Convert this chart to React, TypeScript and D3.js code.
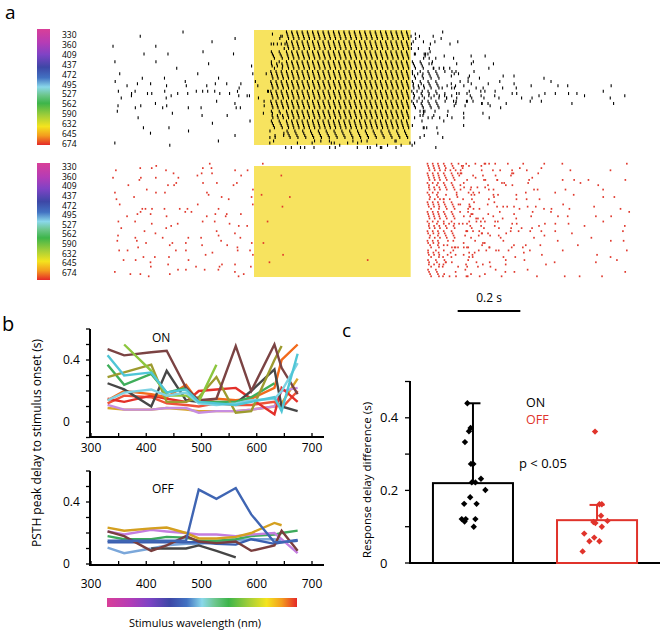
import React, { useMemo } from 'react';
import * as d3 from 'd3';

// ---------- DATA ----------
const WAVELENGTHS = [330, 360, 409, 437, 472, 495, 527, 562, 590, 632, 645, 674];

// Raster spike counts per 50 ms bin (base-36 chars), 4 trials per wavelength.
// bins: 9 pre-stimulus, 10 during stimulus, 14 after offset (time -0.45 .. 1.2 s)
const ON_RASTER = [
  '010010010' + '04cccccccc' + '42100000000000',
  '101000100' + '06cccccccc' + '53110000000000',
  '010101010' + '08cccccccc' + '64211000000000',
  '101010101' + '0acccccccc' + '86421100000000',
  '110101101' + '1ccccccccc' + '98532110100000',
  '211121112' + '2ccccccccc' + 'a8643221111010',
  '232322323' + '3ccccccccc' + 'a9754322212121',
  '121211121' + '2ccccccccc' + '98543211101010',
  '110101010' + '1acccccccc' + '75321100000000',
  '010100101' + '08cccccccc' + '42110000000000',
  '001010010' + '0688888888' + '21100000000000',
  '100100100' + '0244444444' + '21000000000000',
];
const OFF_RASTER = [
  '112101211' + '1000000000' + '0c975432211011',
  '121112101' + '0100000000' + '0c864332111101',
  '101211121' + '0000000000' + '0b864322111110',
  '211101211' + '1010000000' + '0a753322111011',
  '112121101' + '0100000000' + '0b864332211101',
  '121112121' + '0000000000' + '0c864322111111',
  '211211112' + '1000000000' + '0b965432211111',
  '112111211' + '0000000000' + '0b865332211101',
  '121211121' + '1000000000' + '0a754322111011',
  '211121112' + '0100000000' + '0a753322110111',
  '112111211' + '1000000100' + '09643221110101',
  '121121112' + '0000000000' + '08542221111011',
];
const T_START = -0.45;
const T_END = 1.2;
const BIN = 0.05;
const STIM = [0, 0.5];
const TRIALS = 4;

// Panel b: PSTH peak delay (s) per wavelength
const ON_GOLD = [0.09, 0.08, 0.08, 0.09, 0.08, 0.07, 0.07, 0.07, 0.08, 0.1, 0.12, 0.28];
const ON_LAVENDER = [0.11, 0.08, 0.08, 0.09, 0.09, 0.06, 0.07, 0.07, 0.08, 0.1, 0.2, 0.22];
const ON_RED2 = [0.12, 0.17, 0.16, 0.12, 0.11, 0.1, 0.12, 0.11, 0.11, 0.13, 0.09, 0.2];
const ON_RED = [0.15, 0.13, 0.17, 0.15, 0.13, 0.2, 0.21, 0.22, 0.15, 0.05, 0.22, 0.13];
const ON_ORANGE = [0.14, 0.2, 0.18, 0.16, 0.24, 0.13, 0.15, 0.14, 0.15, 0.22, 0.4, 0.5];
const ON_GRAY = [0.25, 0.21, 0.1, 0.33, 0.14, 0.13, 0.12, 0.12, 0.2, 0.34, 0.1, 0.07];
const ON_GREEN = [0.37, 0.24, 0.31, 0.19, 0.22, 0.13, 0.13, 0.13, 0.16, 0.25, null, null];
const ON_OLIVE = [0.29, 0.32, 0.37, 0.13, 0.13, 0.16, 0.29, 0.06, 0.07, 0.4, 0.49, null];
const ON_BROWN = [0.47, 0.43, 0.45, 0.46, 0.22, 0.14, 0.15, 0.49, 0.2, 0.5, 0.35, 0.18];
const ON_LIME = [null, 0.5, 0.33, 0.17, 0.17, 0.13, 0.37, null, null, null, null, null];
const ON_CYAN2 = [0.14, 0.19, 0.21, 0.17, 0.19, 0.12, 0.11, 0.12, 0.14, 0.15, 0.2, 0.38];
const ON_CYAN = [0.43, 0.3, 0.32, 0.19, 0.21, 0.13, 0.12, 0.11, 0.13, 0.16, 0.07, 0.44];

const OFF_LIGHTBLUE = [0.105, 0.07, 0.1, 0.12, 0.13, 0.13, 0.14, 0.15, 0.16, 0.16, 0.15, null];
const OFF_GREEN = [0.18, 0.16, 0.16, 0.175, 0.17, 0.15, 0.15, 0.16, 0.18, 0.19, 0.2, 0.215];
const OFF_BLUEFLAT = [0.14, 0.14, 0.14, 0.14, 0.14, 0.14, 0.13, 0.125, 0.16, 0.13, 0.14, 0.15];
const OFF_GRAY = [null, null, 0.1, 0.1, 0.1, 0.12, 0.084, 0.043, null, null, null, null];
const OFF_LAVENDER = [0.21, 0.19, 0.22, 0.21, 0.2, 0.19, 0.19, 0.18, 0.19, 0.2, 0.16, 0.07];
const OFF_BROWN = [0.21, 0.18, 0.085, 0.12, 0.18, 0.145, 0.135, 0.145, 0.085, 0.12, 0.215, 0.085];
const OFF_GOLD = [0.235, 0.215, 0.23, 0.235, 0.2, 0.165, 0.165, 0.175, 0.2, 0.265, 0.25, null];
const OFF_BLUE = [0.15, 0.15, 0.15, 0.15, 0.15, 0.48, 0.42, 0.49, 0.32, 0.14, 0.14, 0.155];

// Panel c
const GROUPS = ['ON', 'OFF'];
const MEANS = [0.22, 0.118];
const ERR_TOP = [0.44, 0.16];
const ON_POINTS = [0.44, 0.372, 0.363, 0.333, 0.273, 0.273, 0.232, 0.222, 0.222, 0.201, 0.181, 0.163, 0.163, 0.121, 0.121, 0.121, 0.114, 0.1];
const ON_JITTER = [-0.07, -0.03, -0.05, -0.1, -0.025, 0.005, 0.1, -0.015, 0.03, 0.155, -0.035, -0.11, 0.045, -0.14, -0.09, 0.03, -0.105, 0.01];
const OFF_POINTS = [0.362, 0.162, 0.162, 0.13, 0.113, 0.11, 0.116, 0.1, 0.081, 0.07, 0.06, 0.06, 0.032];
const OFF_JITTER = [-0.025, 0.03, 0.06, 0.05, -0.045, -0.02, 0.13, 0.06, -0.16, -0.035, -0.095, 0.03, -0.18];

// ---------- helpers ----------
const frac = (v: number) => v - Math.floor(v);
// deterministic scatter of a spike inside its bin (no randomness)
const scatter = (k: number) => frac(k * k * 0.6180339887 + k * 0.4142135);

function buildSpikes(rows: string[], trials: number) {
  const out: { row: number; trial: number; t: number }[] = [];
  rows.forEach((s, r) => {
    s.split('').forEach((ch, b) => {
      const c = parseInt(ch, 36);
      if (!c) return;
      const dense = c >= 2 * trials;
      if (dense) {
        const base = Math.floor(c / trials);
        const extra = c % trials;
        for (let tr = 0; tr < trials; tr++) {
          const n = base + ((tr + r * 3 + b * 5) % trials < extra ? 1 : 0);
          for (let j = 0; j < n; j++) {
            const ph = 0.22 + tr * 0.13;
            out.push({ row: r, trial: tr, t: T_START + BIN * (b + (j + ph) / n) });
          }
        }
      } else {
        for (let j = 0; j < c; j++) {
          const k = r * 131 + b * 37 + j * 19 + 7;
          const tr = Math.floor(scatter(k + 3) * trials);
          const ph = scatter(k);
          out.push({ row: r, trial: tr, t: T_START + BIN * (b + ph) });
        }
      }
    });
  });
  return out;
}

const SPECTRUM = [
  [0, '#d93f98'], [0.12, '#b43cb6'], [0.22, '#7f43c5'], [0.33, '#3d47a6'], [0.42, '#4272c2'],
  [0.5, '#8ad8ea'], [0.57, '#6cc68c'], [0.64, '#3db54a'], [0.75, '#a6cf38'], [0.84, '#f4e41e'],
  [0.92, '#f39c1e'], [1, '#e52828'],
] as [number, string][];

const FONT = "'Open Sans', 'Noto Sans', sans-serif";
const YELLOW = '#f7e35f';

export default function App() {
  const xT = d3.scaleLinear().domain([T_START, T_END]).range([113, 630]);
  const rowTop = d3.scalePoint<number>().domain(WAVELENGTHS).range([35, 144]);
  const rowBot = d3.scalePoint<number>().domain(WAVELENGTHS).range([167, 273]);
  const onSpikes = useMemo(() => buildSpikes(ON_RASTER, TRIALS), []);
  const offSpikes = useMemo(() => buildSpikes(OFF_RASTER, TRIALS), []);

  // panel b
  const xB = d3.scaleLinear().domain([300, 700]).range([91, 312]);
  const yOn = d3.scaleLinear().domain([0, 0.4]).range([422, 360]);
  const yOff = d3.scaleLinear().domain([0, 0.4]).range([564, 502]);
  const mkLine = (y: d3.ScaleLinear<number, number>) =>
    d3.line<number | null>()
      .defined((d) => d != null)
      .x((_, i) => xB(WAVELENGTHS[i]))
      .y((d) => y(d as number));
  const lineOn = mkLine(yOn);
  const lineOff = mkLine(yOff);
  const onSeries: [(number | null)[], string][] = [
    [ON_GOLD, '#d8a52a'], [ON_LAVENDER, '#c78de0'], [ON_RED2, '#ee5338'], [ON_RED, '#e3302a'],
    [ON_ORANGE, '#f26a1b'], [ON_GRAY, '#474747'], [ON_GREEN, '#3fae5a'], [ON_OLIVE, '#9d9b2f'],
    [ON_BROWN, '#7b4343'], [ON_LIME, '#8cc63e'], [ON_CYAN2, '#7fd2e2'], [ON_CYAN, '#4fc6d6'],
  ];
  const offSeries: [(number | null)[], string][] = [
    [OFF_LIGHTBLUE, '#7ba7da'], [OFF_GREEN, '#3daa5c'], [OFF_BLUEFLAT, '#3a5fb0'], [OFF_GRAY, '#454545'],
    [OFF_LAVENDER, '#c47ee0'], [OFF_BROWN, '#7a3e3e'], [OFF_GOLD, '#d4a020'], [OFF_BLUE, '#3f65b3'],
  ];
  const xTicksB = d3.range(300, 701, 50);

  // panel c
  const xC = d3.scaleBand<string>().domain(GROUPS).range([410, 660]).paddingInner(0.355).paddingOuter(0.185);
  const yC = d3.scaleLinear().domain([0, 0.5]).range([563, 381.5]);
  const bw = xC.bandwidth();
  const diamond = d3.symbol(d3.symbolDiamond2, 26)() as string;
  const cColors = ['#000', '#e0332b'];

  const axisB = (y: d3.ScaleLinear<number, number>, y0: number, yTop: number, yAxis: number, labelY: number) => (
    <g>
      <line x1={90} x2={90} y1={yTop} y2={yAxis + 1} stroke="#000" strokeWidth={2} />
      <line x1={89} x2={324} y1={yAxis} y2={yAxis} stroke="#000" strokeWidth={2} />
      {d3.range(y0, 0.61, 0.1).map((v) => (
        <line key={v} x1={86} x2={90} y1={y(v)} y2={y(v)} stroke="#000" strokeWidth={1.3} />
      ))}
      {xTicksB.map((v) => (
        <g key={v}>
          <line x1={xB(v)} x2={xB(v)} y1={yAxis} y2={yAxis - 4} stroke="#000" strokeWidth={1.3} />
          {v % 100 === 0 && (
            <text x={xB(v)} y={labelY} textAnchor="middle" fontSize={12} fontFamily={FONT}>{v}</text>
          )}
        </g>
      ))}
      {[0, 0.4].map((v) => (
        <text key={v} x={63} y={y(v) + 4.3} fontSize={12} fontFamily={FONT}>{v === 0 ? '0' : '0.4'}</text>
      ))}
    </g>
  );

  return (
    <svg width={660} height={631} style={{ position: 'absolute', left: 0, top: 0, background: '#fff' }} fontFamily={FONT}>
      <defs>
        <linearGradient id="specV" x1="0" y1="0" x2="0" y2="1">
          {SPECTRUM.map(([o, c]) => <stop key={o} offset={o} stopColor={c} />)}
        </linearGradient>
        <linearGradient id="specH" x1="0" y1="0" x2="1" y2="0">
          {SPECTRUM.map(([o, c]) => <stop key={o} offset={o} stopColor={c} />)}
        </linearGradient>
      </defs>

      {/* Panel a */}
      <text x={5} y={19} fontSize={19}>a</text>
      <rect x={37} y={29} width={13} height={116} fill="url(#specV)" />
      <rect x={37} y={163} width={13} height={117} fill="url(#specV)" />
      {WAVELENGTHS.map((w) => (
        <g key={w}>
          <text x={62} y={(rowTop(w) as number) + 3} fontSize={8.5}>{w}</text>
          <text x={62} y={(rowBot(w) as number) + 3} fontSize={8.5}>{w}</text>
        </g>
      ))}
      <rect x={xT(STIM[0])} y={30} width={xT(STIM[1]) - xT(STIM[0])} height={115} fill={YELLOW} />
      <rect x={xT(STIM[0])} y={166} width={xT(STIM[1]) - xT(STIM[0])} height={111} fill={YELLOW} />
      <g>
        {onSpikes.map((s, i) => {
          const y = (rowTop(WAVELENGTHS[s.row]) as number) - 4.6 + s.trial * 2.2;
          return <line key={i} x1={xT(s.t)} x2={xT(s.t)} y1={y} y2={y + 3} stroke="#000" strokeWidth={1.1} />;
        })}
      </g>
      <g>
        {offSpikes.map((s, i) => {
          const y = (rowBot(WAVELENGTHS[s.row]) as number) - 4.2 + s.trial * 2.2;
          return <rect key={i} x={xT(s.t) - 0.8} y={y} width={1.6} height={1.8} fill="#e0392d" />;
        })}
      </g>
      <line x1={xT(0.65)} x2={xT(0.85)} y1={311} y2={311} stroke="#000" strokeWidth={2} />
      <text x={(xT(0.65) + xT(0.85)) / 2} y={302} textAnchor="middle" fontSize={12}>0.2 s</text>

      {/* Panel b */}
      <text x={2} y={331} fontSize={20}>b</text>
      {axisB(yOn, -0.1, 329, 437, 451.5)}
      {axisB(yOff, 0, 471, 565, 587.5)}
      <text x={152} y={342} fontSize={12}>ON</text>
      <text x={152} y={493} fontSize={12}>OFF</text>
      {onSeries.map(([d, c], i) => (
        <path key={i} d={lineOn(d) as string} fill="none" stroke={c} strokeWidth={2.4} />
      ))}
      {offSeries.map(([d, c], i) => (
        <path key={i} d={lineOff(d) as string} fill="none" stroke={c} strokeWidth={2.4} />
      ))}
      <text transform="translate(41,443) rotate(-90)" textAnchor="middle" fontSize={12}>PSTH peak delay to stimulus onset (s)</text>
      <rect x={107} y={598} width={190} height={9} fill="url(#specH)" />
      <text x={195} y={627} textAnchor="middle" fontSize={11}>Stimulus wavelength (nm)</text>

      {/* Panel c */}
      <text x={342} y={337} fontSize={19}>c</text>
      <line x1={410} x2={410} y1={381} y2={564} stroke="#000" strokeWidth={2} />
      <line x1={409} x2={660} y1={563} y2={563} stroke="#000" strokeWidth={2} />
      {d3.range(0, 0.51, 0.1).map((v) => (
        <line key={v} x1={405} x2={410} y1={yC(v)} y2={yC(v)} stroke="#000" strokeWidth={1.3} />
      ))}
      {[0, 0.2, 0.4].map((v) => (
        <text key={v} x={380} y={yC(v) + 4.6} fontSize={13}>{v === 0 ? '0' : v.toFixed(1)}</text>
      ))}
      <text transform="translate(371,480) rotate(-90)" textAnchor="middle" fontSize={11.5}>Response delay difference (s)</text>
      {GROUPS.map((g, i) => {
        const x0 = xC(g) as number;
        const cx = x0 + bw / 2;
        return (
          <g key={g}>
            <rect x={x0} y={yC(MEANS[i])} width={bw} height={yC(0) - yC(MEANS[i])} fill="#fff" stroke={cColors[i]} strokeWidth={2} />
            <line x1={cx} x2={cx} y1={yC(MEANS[i])} y2={yC(ERR_TOP[i])} stroke={cColors[i]} strokeWidth={2} />
            <line x1={cx - 7.5} x2={cx + 7.5} y1={yC(ERR_TOP[i])} y2={yC(ERR_TOP[i])} stroke={cColors[i]} strokeWidth={2} />
          </g>
        );
      })}
      {ON_POINTS.map((v, i) => (
        <path key={'on' + i} d={diamond} transform={`translate(${(xC('ON') as number) + bw / 2 + ON_JITTER[i] * bw},${yC(v)})`} fill="#000" />
      ))}
      {OFF_POINTS.map((v, i) => (
        <path key={'off' + i} d={diamond} transform={`translate(${(xC('OFF') as number) + bw / 2 + OFF_JITTER[i] * bw},${yC(v)})`} fill="#e0332b" />
      ))}
      <text x={526} y={407} fontSize={12.5}>ON</text>
      <text x={526} y={424} fontSize={12.5} fill="#e0332b">OFF</text>
      <text x={519} y={468} fontSize={13}>p &lt; 0.05</text>
    </svg>
  );
}
